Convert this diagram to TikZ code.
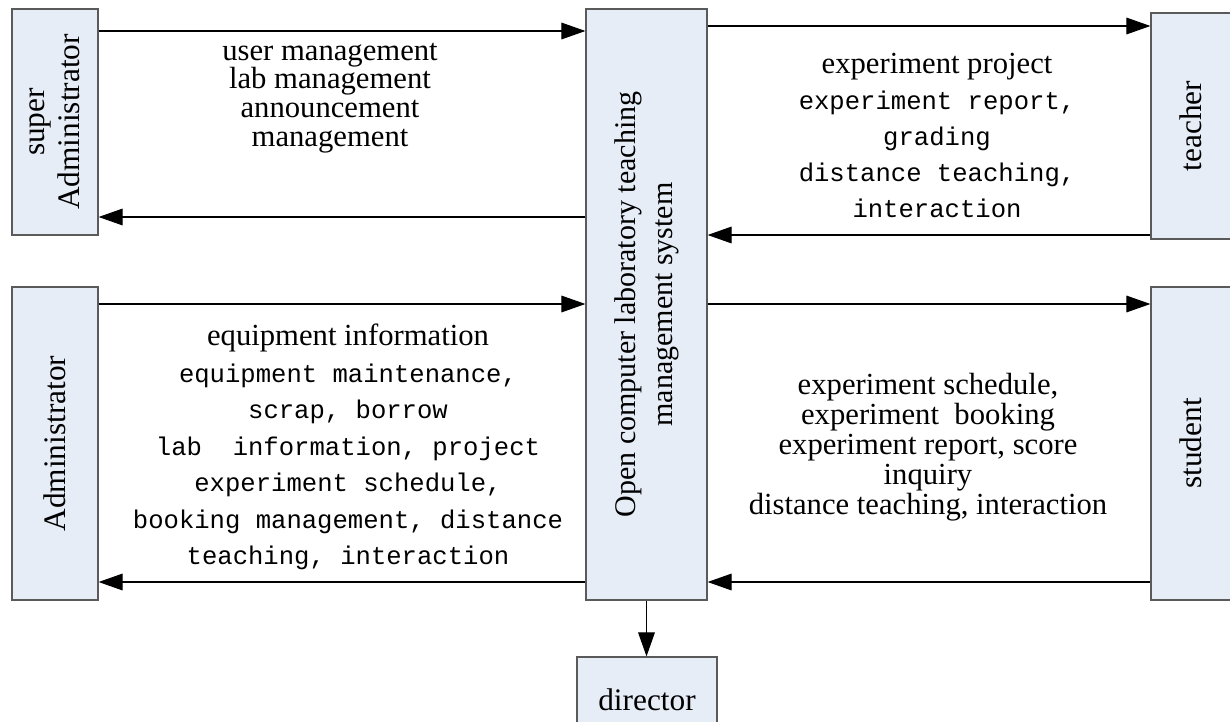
\documentclass[tikz,border=0pt]{standalone}
\usepackage{fontspec}
\setmainfont{Liberation Serif}
\newfontfamily\monof{Liberation Mono}
\usetikzlibrary{arrows.meta}
\definecolor{boxfill}{RGB}{231,237,247}
\definecolor{boxline}{RGB}{90,90,90}
\newcommand\mt{\monof\fontsize{19.2pt}{27pt}\selectfont}
\begin{document}
\begin{tikzpicture}[x=0.75pt,y=-0.75pt,
  box/.style={draw=boxline, fill=boxfill, line width=0.9pt, inner sep=0pt,
              font=\fontsize{23.5pt}{26.5pt}\selectfont},
  arr/.style={line width=0.8pt, -{Triangle[length=18pt,width=12.5pt]}},
  lbl/.style={align=center, inner sep=0pt}]
\useasboundingbox (0,0) rectangle (1230,721);

% boxes
\node[box, minimum width=64.5pt, minimum height=169.5pt] (sa) at (55,122)
  {\rotatebox{90}{\begin{tabular}{@{}c@{}}super\\Administrator\end{tabular}}};
\node[box, minimum width=64.5pt, minimum height=234.75pt] (ad) at (55,443.5)
  {\rotatebox{90}{Administrator}};
\node[box, minimum width=90.75pt, minimum height=443.25pt,
      font=\fontsize{22.5pt}{28pt}\selectfont] (sys) at (646.5,304.5)
  {\rotatebox{90}{\begin{tabular}{@{}c@{}}Open computer laboratory teaching\\management system\end{tabular}}};
\node[box, minimum width=60pt, minimum height=169.5pt] (te) at (1191,126)
  {\rotatebox{90}{teacher}};
\node[box, minimum width=60pt, minimum height=234.75pt] (st) at (1191,443.5)
  {\rotatebox{90}{student}};
\node[box, minimum width=105pt, minimum height=64.5pt] (di) at (647,700)
  {director};

% arrow levels
\coordinate (ya) at (0,31);
\coordinate (yb) at (0,217);
\coordinate (yc) at (0,26);
\coordinate (yd) at (0,235);
\coordinate (ye) at (0,304);
\coordinate (yf) at (0,582);

\draw[arr] (sa.east |- ya) -- (sys.west |- ya);
\draw[arr] (sys.west |- yb) -- (sa.east |- yb);
\draw[arr] (sys.east |- yc) -- (te.west |- yc);
\draw[arr] (te.west |- yd) -- (sys.east |- yd);
\draw[arr] (ad.east |- ye) -- (sys.west |- ye);
\draw[arr] (sys.west |- yf) -- (ad.east |- yf);
\draw[arr] (sys.east |- ye) -- (st.west |- ye);
\draw[arr] (st.west |- yf) -- (sys.east |- yf);
\draw[arr] (sys.south) -- (sys.south |- di.north);

% labels
\node[lbl, font=\fontsize{23pt}{21.5pt}\selectfont] (t1) at (330,98)
  {user management\\lab management\\announcement\\management};
\node[lbl, font=\fontsize{23pt}{27pt}\selectfont] (t2) at (937,135)
  {experiment project\\{\mt experiment report,}\\{\mt grading}\\{\mt distance teaching,}\\{\mt interaction}};
\node[lbl, font=\fontsize{23pt}{27.4pt}\selectfont] (t3) at (348,447)
  {equipment information\\{\mt equipment maintenance,}\\{\mt scrap, borrow}\\{\mt lab\ \ information, project}\\{\mt experiment schedule,}\\{\mt booking management, distance}\\{\mt teaching, interaction}};
\node[lbl, font=\fontsize{23pt}{22.5pt}\selectfont] (t4) at (928,447)
  {experiment schedule,\\experiment\ \ booking\\experiment report, score\\inquiry\\distance teaching, interaction};
\end{tikzpicture}
\end{document}
